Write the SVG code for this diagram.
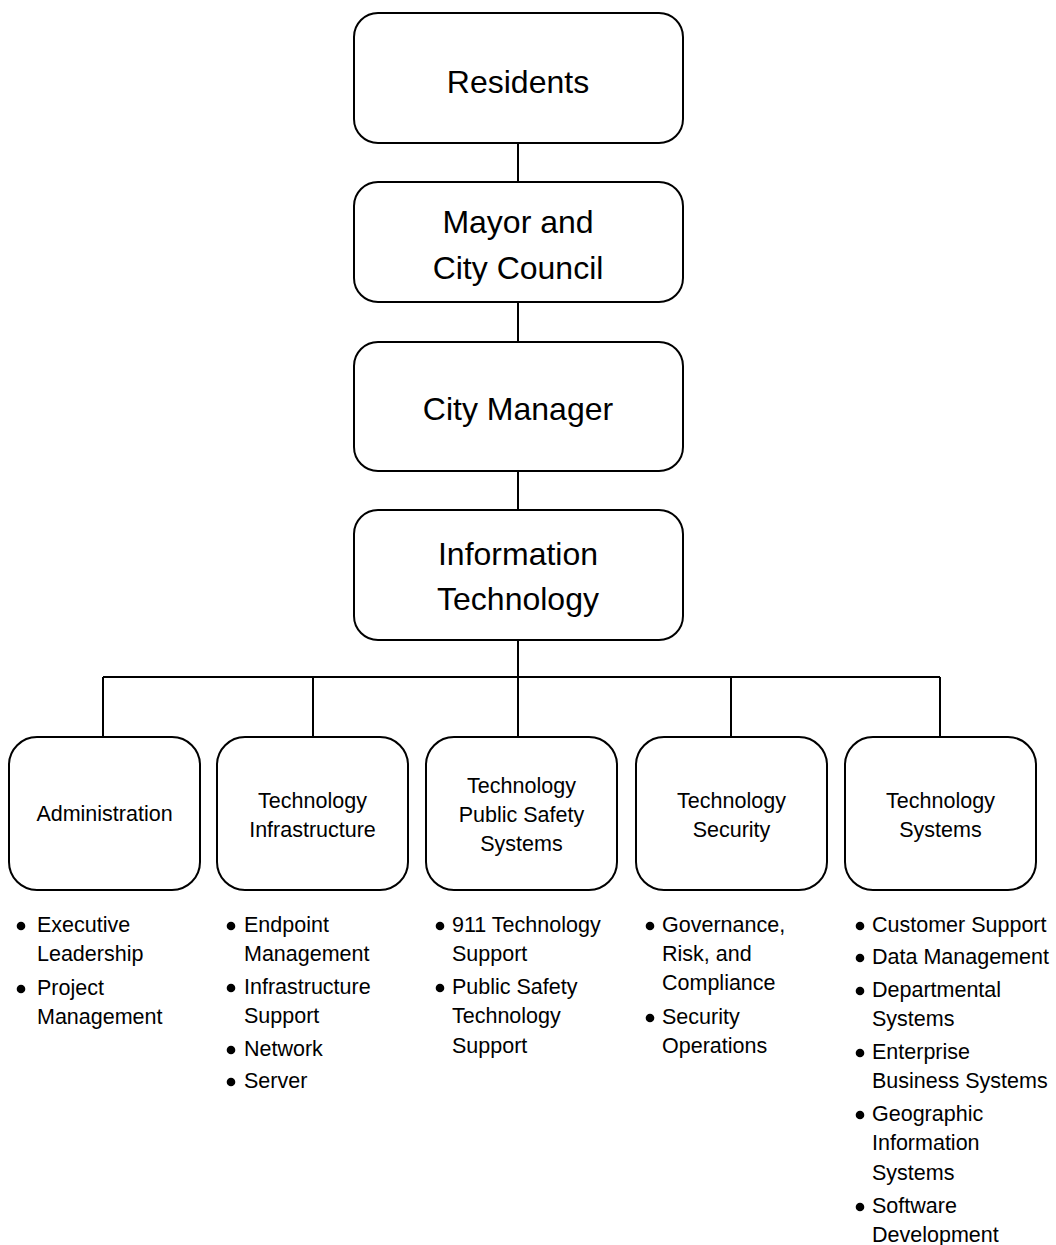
<svg xmlns="http://www.w3.org/2000/svg" width="1056" height="1245" viewBox="0 0 1056 1245">
<style>
.box{fill:#fff;stroke:#000;stroke-width:2}
.big{font-family:"Liberation Sans",Arial,sans-serif;font-size:32px;text-anchor:middle;fill:#000}
.sm{font-family:"Liberation Sans",Arial,sans-serif;font-size:21.5px;text-anchor:middle;fill:#000}
.li{font-family:"Liberation Sans",Arial,sans-serif;font-size:21.5px;fill:#000}
.conn{fill:none;stroke:#000;stroke-width:2}
</style>
<rect width="1056" height="1245" fill="#fff"/>
<g id="connectors" class="conn">
<path d="M518 143V182M518 302V342M518 471V510M518 640V677"/>
<path d="M103 677H940M103 677V737M313 677V737M518 677V737M731 677V737M940 677V737"/>
</g>
<g id="residents"><rect class="box" x="354" y="13" width="329" height="130" rx="24"/><text class="big" x="518" y="93">Residents</text></g>
<g id="mayor"><rect class="box" x="354" y="182" width="329" height="120" rx="24"/><text class="big" x="518" y="233">Mayor and</text><text class="big" x="518" y="279">City Council</text></g>
<g id="manager"><rect class="box" x="354" y="342" width="329" height="129" rx="24"/><text class="big" x="518" y="420">City Manager</text></g>
<g id="it"><rect class="box" x="354" y="510" width="329" height="130" rx="24"/><text class="big" x="518" y="565">Information</text><text class="big" x="518" y="610">Technology</text></g>
<g id="admin"><rect class="box" x="9" y="737" width="191" height="153" rx="28"/><text class="sm" x="104.5" y="821">Administration</text></g>
<g id="infra"><rect class="box" x="217" y="737" width="191" height="153" rx="28"/><text class="sm" x="312.5" y="808">Technology</text><text class="sm" x="312.5" y="837">Infrastructure</text></g>
<g id="safety"><rect class="box" x="426" y="737" width="191" height="153" rx="28"/><text class="sm" x="521.5" y="793">Technology</text><text class="sm" x="521.5" y="822">Public Safety</text><text class="sm" x="521.5" y="851">Systems</text></g>
<g id="security"><rect class="box" x="636" y="737" width="191" height="153" rx="28"/><text class="sm" x="731.5" y="808">Technology</text><text class="sm" x="731.5" y="837">Security</text></g>
<g id="systems"><rect class="box" x="845" y="737" width="191" height="153" rx="28"/><text class="sm" x="940.5" y="808">Technology</text><text class="sm" x="940.5" y="837">Systems</text></g>
<g id="admin-list">
<circle cx="21" cy="926" r="4.3"/><circle cx="21" cy="989" r="4.3"/>
<text class="li" x="37" y="932">Executive</text><text class="li" x="37" y="961">Leadership</text>
<text class="li" x="37" y="995">Project</text><text class="li" x="37" y="1024">Management</text>
</g>
<g id="infra-list">
<circle cx="231" cy="926" r="4.3"/><circle cx="231" cy="988" r="4.3"/><circle cx="231" cy="1050" r="4.3"/><circle cx="231" cy="1082" r="4.3"/>
<text class="li" x="244" y="932">Endpoint</text><text class="li" x="244" y="961">Management</text>
<text class="li" x="244" y="994">Infrastructure</text><text class="li" x="244" y="1023">Support</text>
<text class="li" x="244" y="1056">Network</text><text class="li" x="244" y="1088">Server</text>
</g>
<g id="safety-list">
<circle cx="440" cy="926" r="4.3"/><circle cx="440" cy="988" r="4.3"/>
<text class="li" x="452" y="932">911 Technology</text><text class="li" x="452" y="961">Support</text>
<text class="li" x="452" y="994">Public Safety</text><text class="li" x="452" y="1023">Technology</text><text class="li" x="452" y="1053">Support</text>
</g>
<g id="security-list">
<circle cx="650" cy="926" r="4.3"/><circle cx="650" cy="1018" r="4.3"/>
<text class="li" x="662" y="932">Governance,</text><text class="li" x="662" y="961">Risk, and</text><text class="li" x="662" y="990">Compliance</text>
<text class="li" x="662" y="1024">Security</text><text class="li" x="662" y="1053">Operations</text>
</g>
<g id="systems-list">
<circle cx="860" cy="926" r="4.3"/><circle cx="860" cy="958" r="4.3"/><circle cx="860" cy="991" r="4.3"/><circle cx="860" cy="1053" r="4.3"/><circle cx="860" cy="1115" r="4.3"/><circle cx="860" cy="1207" r="4.3"/>
<text class="li" x="872" y="932">Customer Support</text>
<text class="li" x="872" y="964">Data Management</text>
<text class="li" x="872" y="997">Departmental</text><text class="li" x="872" y="1026">Systems</text>
<text class="li" x="872" y="1059">Enterprise</text><text class="li" x="872" y="1088">Business Systems</text>
<text class="li" x="872" y="1121">Geographic</text><text class="li" x="872" y="1150">Information</text><text class="li" x="872" y="1180">Systems</text>
<text class="li" x="872" y="1213">Software</text><text class="li" x="872" y="1242">Development</text>
</g>
</svg>
